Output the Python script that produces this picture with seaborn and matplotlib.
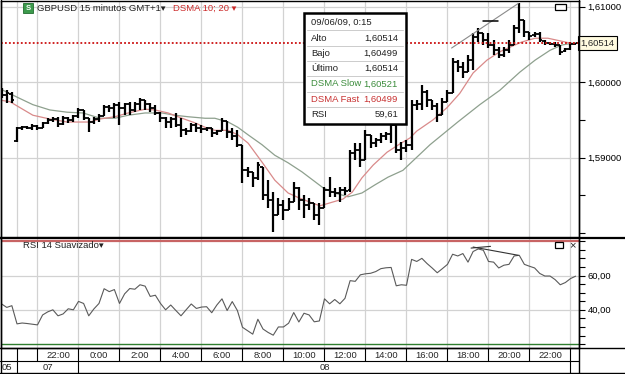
import matplotlib
matplotlib.use("Agg")
import matplotlib.pyplot as plt
from matplotlib.patches import Rectangle
from matplotlib.ticker import FixedLocator, MultipleLocator, FuncFormatter
import seaborn as sns

# 15-minute bars. slot 0 = Sunday 07, 21:00 (GMT+1); slots -3..-1 = end of Friday 05
slots = list(range(-3, 110))

opens = [
    1.5987, 1.5983, 1.5984,
    1.5922, 1.5939, 1.5940, 1.5939, 1.5942, 1.5939, 1.5946, 1.5950, 1.5951, 1.5944,
    1.5952, 1.5950, 1.5955, 1.5963, 1.5952, 1.5947, 1.5951, 1.5955, 1.5967, 1.5966,
    1.5970, 1.5966, 1.5971, 1.5963, 1.5971, 1.5976, 1.5971, 1.5966, 1.5959, 1.5952,
    1.5947, 1.5951, 1.5943, 1.5936, 1.5935, 1.5943, 1.5939, 1.5938, 1.5939, 1.5932,
    1.5935, 1.5948, 1.5934, 1.5928, 1.5917, 1.5883, 1.5881, 1.5873, 1.5887, 1.5850,
    1.5844, 1.5824, 1.5837, 1.5830, 1.5841, 1.5860, 1.5844, 1.5837, 1.5840, 1.5824,
    1.5833, 1.5857, 1.5854, 1.5853, 1.5857, 1.5857, 1.5906, 1.5910, 1.5897, 1.5930,
    1.5919, 1.5923, 1.5928, 1.5931, 1.5943, 1.5910, 1.5913, 1.5917, 1.5970, 1.5971,
    1.5987, 1.5976, 1.5968, 1.5956, 1.5974, 1.5985, 1.6026, 1.6020, 1.6013, 1.6029,
    1.6060, 1.6065, 1.6056, 1.6049, 1.6042, 1.6036, 1.6042, 1.6049, 1.6072, 1.6082,
    1.6066, 1.6062, 1.6064, 1.6054, 1.6052, 1.6050, 1.6049, 1.6041, 1.6044, 1.60505,
]
highs = [
    1.5992, 1.5989, 1.5987,
    1.5940, 1.5942, 1.5942, 1.5944, 1.5943, 1.5947, 1.5952, 1.5954, 1.5954, 1.5955,
    1.5954, 1.5956, 1.5966, 1.5963, 1.5952, 1.5954, 1.5958, 1.5970, 1.5970, 1.5972,
    1.5974, 1.5972, 1.5974, 1.5974, 1.5979, 1.5976, 1.5972, 1.5970, 1.5960, 1.5954,
    1.5954, 1.5959, 1.5952, 1.5939, 1.5946, 1.5946, 1.5943, 1.5940, 1.5939, 1.5936,
    1.5952, 1.5948, 1.5939, 1.5936, 1.5917, 1.5887, 1.5881, 1.5894, 1.5887, 1.5870,
    1.5854, 1.5846, 1.5844, 1.5846, 1.5868, 1.5861, 1.5850, 1.5846, 1.5840, 1.5840,
    1.5861, 1.5874, 1.5860, 1.5861, 1.5861, 1.5910, 1.5919, 1.5919, 1.5936, 1.5930,
    1.5926, 1.5932, 1.5934, 1.5947, 1.5943, 1.5921, 1.5923, 1.5976, 1.5976, 1.5996,
    1.5989, 1.5976, 1.5972, 1.5979, 1.5989, 1.6032, 1.6029, 1.6026, 1.6036, 1.6065,
    1.6072, 1.6065, 1.6065, 1.6056, 1.6046, 1.6046, 1.6056, 1.6075, 1.6105, 1.6082,
    1.6066, 1.6066, 1.6066, 1.6056, 1.6053, 1.6053, 1.6049, 1.6045, 1.6053, 1.60514,
]
lows = [
    1.5979, 1.5972, 1.5972,
    1.5921, 1.5936, 1.5938, 1.5936, 1.5936, 1.5939, 1.5944, 1.5947, 1.5940, 1.5943,
    1.5946, 1.5947, 1.5952, 1.5950, 1.5934, 1.5944, 1.5947, 1.5955, 1.5960, 1.5952,
    1.5943, 1.5956, 1.5956, 1.5960, 1.5963, 1.5963, 1.5960, 1.5956, 1.5947, 1.5939,
    1.5939, 1.5940, 1.5927, 1.5930, 1.5934, 1.5934, 1.5932, 1.5935, 1.5927, 1.5930,
    1.5935, 1.5926, 1.5923, 1.5914, 1.5866, 1.5874, 1.5861, 1.5870, 1.5844, 1.5833,
    1.5801, 1.5824, 1.5817, 1.5830, 1.5841, 1.5830, 1.5820, 1.5830, 1.5817, 1.5811,
    1.5833, 1.5848, 1.5848, 1.5841, 1.5850, 1.5854, 1.5897, 1.5887, 1.5897, 1.5913,
    1.5914, 1.5919, 1.5923, 1.5919, 1.5906, 1.5897, 1.5907, 1.5910, 1.5963, 1.5963,
    1.5967, 1.5963, 1.5947, 1.5956, 1.5974, 1.5985, 1.6013, 1.6005, 1.6013, 1.6016,
    1.6053, 1.6049, 1.6045, 1.6036, 1.6032, 1.6033, 1.6038, 1.6049, 1.6065, 1.6060,
    1.6056, 1.6060, 1.6053, 1.6049, 1.6049, 1.6046, 1.6036, 1.6040, 1.6042, 1.60499,
]
closes = [
    1.5983, 1.5985, 1.5976,
    1.5939, 1.5940, 1.5939, 1.5942, 1.5939, 1.5946, 1.5950, 1.5951, 1.5944, 1.5952,
    1.5950, 1.5955, 1.5963, 1.5952, 1.5947, 1.5951, 1.5955, 1.5967, 1.5966, 1.5970,
    1.5966, 1.5971, 1.5963, 1.5971, 1.5976, 1.5971, 1.5966, 1.5959, 1.5952, 1.5947,
    1.5951, 1.5943, 1.5936, 1.5935, 1.5943, 1.5939, 1.5938, 1.5939, 1.5932, 1.5935,
    1.5948, 1.5934, 1.5928, 1.5917, 1.5883, 1.5881, 1.5873, 1.5890, 1.5850, 1.5844,
    1.5824, 1.5837, 1.5830, 1.5841, 1.5860, 1.5844, 1.5837, 1.5840, 1.5824, 1.5833,
    1.5857, 1.5854, 1.5853, 1.5857, 1.5856, 1.5906, 1.5910, 1.5897, 1.5930, 1.5919,
    1.5923, 1.5928, 1.5931, 1.5943, 1.5910, 1.5913, 1.5917, 1.5970, 1.5971, 1.5987,
    1.5976, 1.5968, 1.5956, 1.5974, 1.5985, 1.6026, 1.6020, 1.6013, 1.6029, 1.6060,
    1.6065, 1.6056, 1.6049, 1.6042, 1.6036, 1.6042, 1.6049, 1.6072, 1.6082, 1.6066,
    1.6061, 1.6064, 1.6056, 1.6052, 1.6050, 1.6049, 1.6040, 1.6044, 1.6051, 1.60514,
]

# DSMA lines (slot, price)
fast_x = [-3.3, -1.4, 0.6, 3.1, 6.4, 9.8, 14.2, 16.2, 19.1, 21.7, 25, 26.9, 29.5, 32.2,
          34.7, 36.7, 38.6, 41.2, 43.1, 45.1, 47.8, 50.3, 52.9, 55.2, 59.1, 63.6, 65.4,
          67.3, 69.5, 72.2, 74.7, 76.7, 78, 81.2, 83.9, 86.4, 89, 91.7, 94.2, 95.8, 98.5,
          101.1, 103.6, 106.3, 109]
fast_val = [1.5976, 1.5974, 1.5966, 1.5956, 1.5951, 1.5947, 1.5947, 1.5951, 1.5954, 1.5959,
            1.5964, 1.5963, 1.5959, 1.5952, 1.5946, 1.5940, 1.5936, 1.5936, 1.5930, 1.5919,
            1.5894, 1.5870, 1.5853, 1.5846, 1.5836, 1.5845, 1.5854, 1.5873, 1.5890, 1.5907,
            1.5918, 1.5926, 1.5935, 1.5950, 1.5966, 1.5985, 1.6012, 1.6029, 1.6040, 1.6045,
            1.6053, 1.6058, 1.6058, 1.6054, 1.60499]
slow_x = [-3.3, 0, 3.1, 6.4, 9.8, 12.9, 16.2, 19.1, 21.7, 25, 28.3, 30.8, 33.4, 36.7, 38.6,
          41.2, 43.1, 45.1, 47.8, 50.3, 52.9, 55.6, 59.7, 62, 64.6, 67.3, 69.9, 72.4, 75.3,
          80.6, 86, 90.3, 94.2, 98.1, 101.1, 104, 106.3, 109]
slow_val = [1.5991, 1.5980, 1.5970, 1.5963, 1.5960, 1.5959, 1.5952, 1.5952, 1.5956, 1.5959,
            1.5959, 1.5956, 1.5954, 1.5952, 1.5952, 1.5947, 1.5940, 1.5930, 1.5917, 1.5903,
            1.5893, 1.5881, 1.5860, 1.5853, 1.5848, 1.5853, 1.5864, 1.5874, 1.5883, 1.5917,
            1.5947, 1.5970, 1.5989, 1.6013, 1.6029, 1.6042, 1.6049, 1.60521]

rsi = [
    43.4, 41.4, 42.4,
    31.8, 32.3, 32.0, 31.6, 31.2, 37.0, 38.8, 40.0, 36.5, 37.6,
    40.6, 40.0, 44.9, 43.7, 36.5, 40.5, 43.7, 52.3, 50.6, 51.8,
    43.7, 49.3, 52.4, 52.0, 54.6, 53.8, 47.8, 48.5, 43.7, 40.0,
    42.8, 39.6, 36.5, 40.0, 43.4, 40.8, 41.6, 41.8, 38.3, 42.8,
    46.4, 39.6, 44.8, 39.6, 29.8, 27.8, 25.8, 34.5, 28.8, 26.8,
    25.2, 30.0, 30.0, 32.2, 38.4, 32.9, 38.0, 37.0, 33.0, 33.5,
    46.4, 43.5, 46.0, 43.5, 46.7, 57.0, 56.6, 60.4, 61.0, 61.3,
    62.3, 64.0, 64.5, 64.7, 54.0, 54.6, 54.3, 69.4, 68.2, 70.0,
    67.0, 64.4, 61.6, 64.0, 66.5, 72.4, 71.4, 72.8, 67.8, 74.0,
    75.5, 74.7, 68.2, 67.8, 64.4, 66.0, 66.5, 71.4, 71.8, 66.5,
    65.4, 64.4, 61.2, 59.7, 59.7, 57.6, 54.6, 55.9, 58.2, 59.61,
]

# hand-drawn trend lines on the chart
trend_x, trend_y = [84.8, 97.8], [1.6045, 1.6104]
mark_x, mark_y = [90.9, 93.9], [1.6081, 1.6081]
rsi_trend_x, rsi_trend_y = [89, 97.8], [76.6, 71.8]
rsi_mark_x, rsi_mark_y = [88.6, 92.4], [76.0, 77.0]

time_labels = ["22:00", "0:00", "2:00", "4:00", "6:00", "8:00", "10:00",
               "12:00", "14:00", "16:00", "18:00", "20:00", "22:00"]
date_labels = ["05", "07", "08"]
date_bounds = [0, 12, 108]
tooltip_date = "09/06/09, 0:15"


def comma(v, nd=5):
    return f"{v:.{nd}f}".replace(".", ",")


sns.set_style("white")
plt.rcParams['font.family'] = ['Liberation Sans', 'DejaVu Sans']
FS = 6.8

W, H = 625, 374
fig = plt.figure(figsize=(W / 100, H / 100), dpi=100)


def rect(x0, y0, x1, y1):
    return [x0 / W, 1 - y1 / H, (x1 - x0) / W, (y1 - y0) / H]


ax = fig.add_axes(rect(1, 1, 579, 238))
rax = fig.add_axes(rect(1, 238, 579, 348), sharex=ax)
tax = fig.add_axes(rect(1, 348, 579, 361), sharex=ax)
dax = fig.add_axes(rect(1, 361, 579, 373), sharex=ax)

grid_slots = [4 + 8 * i for i in range(14)]
grid_col = '#d2d2d2'

# ---- price panel
ax.vlines(slots, lows, highs, color='black', lw=1.6, zorder=3)
ax.hlines(opens, [s - 0.5 for s in slots], slots, color='black', lw=1.3, zorder=3)
ax.hlines(closes, slots, [s + 0.5 for s in slots], color='black', lw=1.3, zorder=3)
sns.lineplot(x=slow_x, y=slow_val, ax=ax, color='#8ea08e', lw=0.9, estimator=None, sort=False, zorder=2)
sns.lineplot(x=fast_x, y=fast_val, ax=ax, color='#d98a8a', lw=0.9, estimator=None, sort=False, zorder=2)
ax.plot(trend_x, trend_y, color='#8a8a8a', lw=0.8, zorder=4)
ax.plot(mark_x, mark_y, color='black', lw=1.1, zorder=4)
ax.axhline(closes[-1], color='#cc1111', lw=1.3, ls=(0, (1, 1.2)), zorder=4)
ax.axvline(0, color=grid_col, lw=0.9, zorder=0)

ax.set_xlim(-3.12, 109.66)
ax.set_ylim(1.57934, 1.61073)
ax.xaxis.set_major_locator(FixedLocator(grid_slots))
ax.tick_params(axis='x', length=0, labelbottom=False)
ax.yaxis.tick_right()
ax.set_yticks([1.59, 1.60, 1.61])
ax.yaxis.set_minor_locator(MultipleLocator(0.005))
ax.yaxis.set_major_formatter(FuncFormatter(lambda v, p: comma(v)))
ax.tick_params(axis='y', which='both', direction='out', length=4, width=0.8,
               labelsize=FS, pad=2, colors='black')
ax.grid(True, which='major', color=grid_col, lw=0.9)
ax.set_axisbelow(True)
ax.set_xlabel('')
ax.set_ylabel('')
for sp in ax.spines.values():
    sp.set_color('black')
    sp.set_linewidth(1.0)
ax.spines['bottom'].set_linewidth(1.6)
ax.text(1.003, closes[-1], comma(closes[-1]), transform=ax.get_yaxis_transform(),
        fontsize=FS, va='center', ha='left', zorder=6,
        bbox=dict(boxstyle='square,pad=0.25', facecolor='#fffbe0', edgecolor='black', lw=0.8))

# ---- RSI panel
sns.lineplot(x=slots, y=rsi, ax=rax, color='#5a5a5a', lw=0.8, estimator=None, sort=False)
rax.plot(rsi_trend_x, rsi_trend_y, color='#333333', lw=0.8)
rax.plot(rsi_mark_x, rsi_mark_y, color='#333333', lw=0.8)
rax.axhline(80, color='#c86464', lw=1.6)
rax.axhline(20, color='#2f7f2f', lw=1.0)
rax.set_ylim(17.73, 81.87)
rax.yaxis.tick_right()
rax.set_yticks([40, 60])
rax.yaxis.set_minor_locator(MultipleLocator(5))
rax.yaxis.set_major_formatter(FuncFormatter(lambda v, p: comma(v, 2)))
rax.tick_params(axis='y', which='both', direction='out', length=4, width=0.8,
                labelsize=FS, pad=2, colors='black')
rax.tick_params(axis='x', length=0, labelbottom=False)
rax.grid(True, which='major', color=grid_col, lw=0.9)
rax.set_axisbelow(True)
rax.set_xlabel('')
rax.set_ylabel('')
for sp in rax.spines.values():
    sp.set_color('black')
    sp.set_linewidth(1.0)
rax.spines['top'].set_visible(False)

# ---- time and date rows
for a in (tax, dax):
    a.set_ylim(0, 1)
    a.axis('off')
tax.vlines([0] + grid_slots, 0, 1, color='black', lw=0.8)
for g, lab in zip(grid_slots, time_labels):
    tax.text(g + 4, 0.45, lab, fontsize=FS, ha='center', va='center')
dax.vlines(date_bounds, 0, 1, color='black', lw=0.8)
dax.text(-3.0, 0.45, date_labels[0], fontsize=FS, ha='left', va='center')
for lab, a0, a1 in zip(date_labels[1:], date_bounds[:-1], date_bounds[1:]):
    dax.text((a0 + a1) / 2, 0.45, lab, fontsize=FS, ha='center', va='center')

# ---- chrome drawn in pixel coordinates
ov = fig.add_axes([0, 0, 1, 1])
ov.set_xlim(0, W)
ov.set_ylim(H, 0)
ov.axis('off')
ov.plot([0, W], [238, 238], color='black', lw=1.6)
ov.plot([0, W], [348, 348], color='black', lw=1.0)
ov.plot([0, 579], [361, 361], color='black', lw=0.8)
ov.plot([0, W], [373, 373], color='black', lw=1.0)
ov.plot([0.5, 0.5], [0, 373], color='black', lw=1.0)
ov.plot([579, 579], [0, 373], color='black', lw=1.0)

# header
ov.add_patch(Rectangle((23, 3), 10, 10, facecolor='#3c9a4c', edgecolor='#216d2f', lw=0.6))
ov.text(28, 8.3, "S", color='white', fontsize=5.5, fontweight='bold', ha='center', va='center')
ov.text(37, 8.5, "GBPUSD 15 minutos GMT+1▾", fontsize=FS, color='#222222', va='center')
ov.text(173, 8.5, "DSMA 10; 20 ▾", fontsize=FS, color='#cc2a2a', va='center')
ov.add_patch(Rectangle((555, 4), 11, 6, facecolor='white', edgecolor='black', lw=0.9))
ov.text(23, 245, "RSI 14 Suavizado▾", fontsize=FS, color='#222222', va='center')
ov.add_patch(Rectangle((555, 242), 8, 6, facecolor='white', edgecolor='black', lw=0.9))
ov.text(572, 245, "×", fontsize=8, ha='center', va='center')

# tooltip
ov.add_patch(Rectangle((304, 13), 102, 111, facecolor='white', edgecolor='black', lw=1.8, zorder=5))
rows = [
    ("Alto", comma(highs[-1]), '#222222'),
    ("Bajo", comma(lows[-1]), '#222222'),
    ("Último", comma(closes[-1]), '#222222'),
    ("DSMA Slow", comma(slow_val[-1]), '#3c8c3c'),
    ("DSMA Fast", comma(fast_val[-1]), '#c83232'),
    ("RSI", comma(rsi[-1], 2), '#222222'),
]
ov.text(311, 22.5, tooltip_date, fontsize=FS, va='center', color='#222222', zorder=6)
for i, (lab, val, col) in enumerate(rows):
    yc = 38 + 15.3 * i
    ov.plot([307, 403], [yc - 7.6, yc - 7.6], color='#cccccc', lw=0.7, zorder=6)
    ov.text(311, yc, lab, fontsize=FS, va='center', color=col, zorder=6)
    ov.text(398, yc, val, fontsize=FS, va='center', ha='right', color=col, zorder=6)

fig.savefig("out.png", dpi=100)
